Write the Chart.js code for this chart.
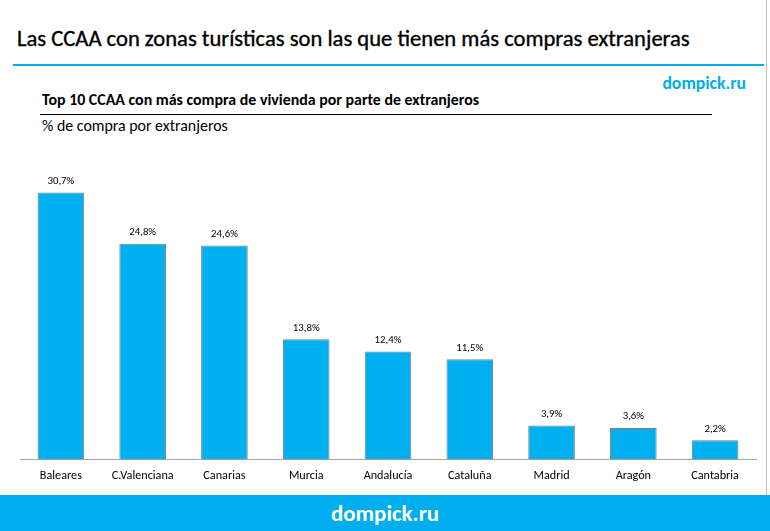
<!DOCTYPE html>
<html>
<head>
<meta charset="utf-8">
<script src="https://cdn.jsdelivr.net/npm/chart.js@4.4.1/dist/chart.umd.min.js"></script>
<style>
  html, body { margin: 0; padding: 0; background: #fff; }
  body { width: 770px; height: 531px; position: relative; overflow: hidden; font-family: Carlito, "Liberation Sans Narrow", "Open Sans", sans-serif; }
  #title { position: absolute; left: 17px; top: 24px; font-size: 22.6px; color: #000; white-space: nowrap; -webkit-text-stroke: 0.35px #000; }
  #rule { position: absolute; left: 13px; top: 64px; width: 751px; height: 2px; background: #00aeef; }
  #edge { position: absolute; left: 766px; top: 0; width: 1px; height: 495px; background: #bfbfbf; }
  #brand { position: absolute; right: 24px; top: 72px; font-size: 17.7px; font-weight: bold; color: #00aeef; }
  #sub { position: absolute; left: 42px; top: 90px; font-size: 15.9px; font-weight: bold; color: #000; white-space: nowrap; }
  #subrule { position: absolute; left: 40px; top: 114px; width: 672px; height: 1px; background: #000; }
  #unit { position: absolute; left: 42px; top: 116px; font-size: 15.9px; color: #000; white-space: nowrap; }
  #wrap { position: absolute; left: 14px; top: 143px; width: 745px; height: 341px; }
  #footer { position: absolute; left: 0; top: 495px; width: 770px; height: 36px; background: #00aeef; color: #fff; font-weight: bold; font-size: 22.9px; text-align: center; line-height: 36px; }
</style>
</head>
<body>
<div id="title">Las CCAA con zonas turísticas son las que tienen más compras extranjeras</div>
<div id="rule"></div>
<div id="edge"></div>
<div id="brand">dompick.ru</div>
<div id="sub">Top 10 CCAA con más compra de vivienda por parte de extranjeros</div>
<div id="subrule"></div>
<div id="unit">% de compra por extranjeros</div>
<div id="wrap"><canvas id="c"></canvas></div>
<div id="footer">dompick.ru</div>
<script>
const regions = ["Baleares", "C.Valenciana", "Canarias", "Murcia", "Andalucía", "Cataluña", "Madrid", "Aragón", "Cantabria"];
const shares = [30.7, 24.8, 24.6, 13.8, 12.4, 11.5, 3.9, 3.6, 2.2];
const FONT = "Carlito, 'Liberation Sans Narrow', 'Open Sans', sans-serif";

// value above each bar, comma decimal like the original
const valueLabels = {
  id: "valueLabels",
  afterDatasetsDraw(chart) {
    const { ctx } = chart;
    const meta = chart.getDatasetMeta(0);
    ctx.save();
    ctx.font = "10.8px " + FONT;
    ctx.fillStyle = "#000";
    ctx.textAlign = "center";
    ctx.textBaseline = "bottom";
    meta.data.forEach((bar, i) => {
      ctx.fillText(shares[i].toFixed(1).replace(".", ",") + "%", bar.x, bar.y - 6);
    });
    ctx.restore();
  }
};

new Chart(document.getElementById("c"), {
  type: "bar",
  data: {
    labels: regions,
    datasets: [{
      data: shares,
      backgroundColor: "#00b0f0",
      borderColor: "#7f7f7f",
      borderWidth: 1,
      barPercentage: 0.57,
      categoryPercentage: 1
    }]
  },
  options: {
    responsive: true,
    maintainAspectRatio: false,
    animation: false,
    layout: { padding: { left: 6, right: 3, top: 12, bottom: 0 } },
    plugins: { legend: { display: false }, tooltip: { enabled: false } },
    scales: {
      x: {
        grid: { display: false },
        border: { color: "#a6a6a6", width: 1 },
        ticks: { color: "#000", font: { size: 12.2, family: FONT }, padding: 1, maxRotation: 0 }
      },
      y: { display: false, min: 0, max: 35 }
    }
  },
  plugins: [valueLabels]
});
</script>
</body>
</html>
